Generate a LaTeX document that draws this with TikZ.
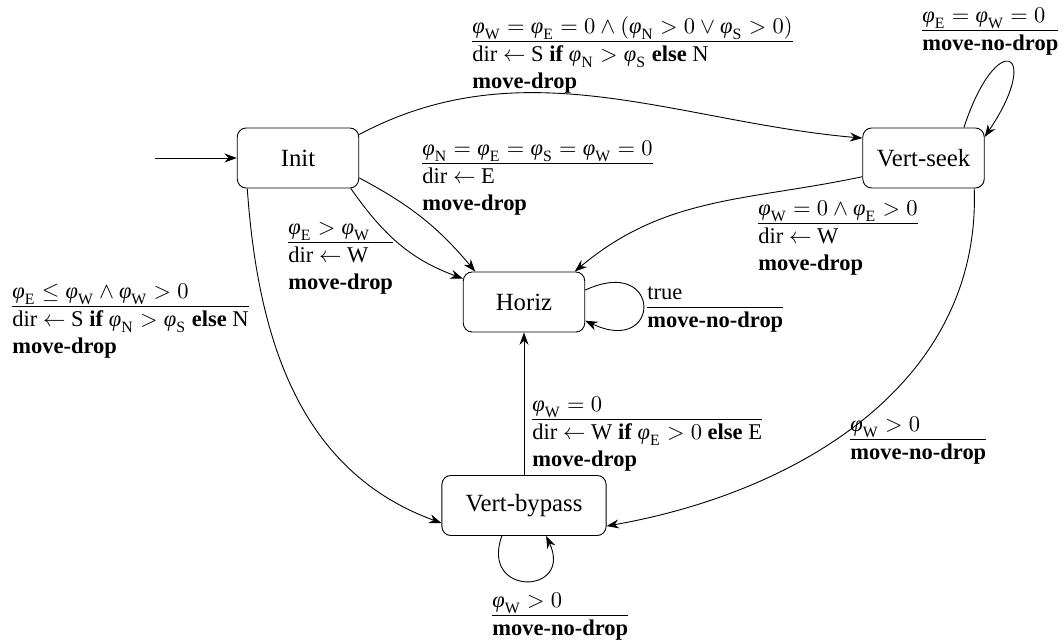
\documentclass[tikz,border=0pt]{standalone}
\usepackage{fontspec}
\setmainfont{Liberation Serif}
\usetikzlibrary{arrows.meta}
\newcommand{\vp}[1]{\mbox{\itshape φ}_{\mathrm{#1}}}
\newcommand{\guard}[2]{\begin{tabular}{@{}l@{}}#1\\\hline #2\end{tabular}}

\begin{document}
\begin{tikzpicture}[x=0.015625cm, y=0.015625cm, >={Stealth[length=5.5pt, width=4pt]},
    stateBox/.style={draw, rounded corners=4pt, minimum width=54pt, minimum height=26.7pt,
        inner sep=2pt, font=\fontsize{11}{13}\selectfont},
    transLbl/.style={inner sep=0pt, anchor=north west}]
    \useasboundingbox (0,0) rectangle (1064,-642);

    \node[stateBox] (init) at (298,-158) {Init};
    \node[stateBox] (vseek) at (923.5,-158) {Vert-seek};
    \node[stateBox] (horiz) at (524,-302) {Horiz};
    \node[stateBox, minimum width=73pt] (vbyp) at (524,-505.5) {Vert-bypass};

    \coordinate (start) at (155,-158);
    \draw[->] (start) -- (init);

    \draw[->] (init.21) to[out=28, in=175, looseness=0.95] (vseek.162);
    \draw[->] (init.-18) to[out=-28, in=130] (horiz.148);
    \draw[->] (init.-30) to[out=-55, in=160] (horiz.159);
    \draw[->] (init.-149) to[out=-86, in=160] (vbyp.-168);
    \draw[->] (vseek.-163) to[out=-168, in=40] (horiz.31);
    \draw[->] (vseek.-31) to[out=-88, in=10] (vbyp.-14);
    \draw[->] (vbyp) -- (horiz);

    \draw[->] (vseek.37) .. controls +(72:105) and +(56:105) .. (vseek.19);
    \draw[->] (horiz.11) .. controls +(25:85) and +(-25:85) .. (horiz.-17);
    \draw[->] (vbyp.-126) .. controls +(-110:65) and +(-65:65) .. (vbyp.-54);

    \node[transLbl] (lblToSeek) at (472,-14)
        {\guard{$\vp{W} = \vp{E} = 0 \wedge (\vp{N} > 0 \vee \vp{S} > 0)$}
        {dir $\leftarrow$ S \textbf{if} $\vp{N} > \vp{S}$ \textbf{else} N\\ \textbf{move-drop}}};
    \node[transLbl] (lblSeekLoop) at (922,-3)
        {\guard{$\vp{E} = \vp{W} = 0$}{\textbf{move-no-drop}}};
    \node[transLbl] (lblToHorizE) at (422,-136)
        {\guard{$\vp{N} = \vp{E} = \vp{S} = \vp{W} = 0$}{dir $\leftarrow$ E\\ \textbf{move-drop}}};
    \node[transLbl] (lblToHorizW) at (288,-215)
        {\guard{$\vp{E} > \vp{W}$}{dir $\leftarrow$ W\\ \textbf{move-drop}}};
    \node[transLbl] (lblToBypass) at (12,-279)
        {\guard{$\vp{E} \leq \vp{W} \wedge \vp{W} > 0$}
        {dir $\leftarrow$ S \textbf{if} $\vp{N} > \vp{S}$ \textbf{else} N\\ \textbf{move-drop}}};
    \node[transLbl] (lblSeekHoriz) at (758,-196)
        {\guard{$\vp{W} = 0 \wedge \vp{E} > 0$}{dir $\leftarrow$ W\\ \textbf{move-drop}}};
    \node[transLbl] (lblHorizLoop) at (647,-280)
        {\guard{true}{\textbf{move-no-drop}}};
    \node[transLbl] (lblBypassHoriz) at (532,-392)
        {\guard{$\vp{W} = 0$}{dir $\leftarrow$ W \textbf{if} $\vp{E} > 0$ \textbf{else} E\\ \textbf{move-drop}}};
    \node[transLbl] (lblSeekBypass) at (850,-412)
        {\guard{$\vp{W} > 0$}{\textbf{move-no-drop}}};
    \node[transLbl] (lblBypassLoop) at (492,-588)
        {\guard{$\vp{W} > 0$}{\textbf{move-no-drop}}};
\end{tikzpicture}
\end{document}
